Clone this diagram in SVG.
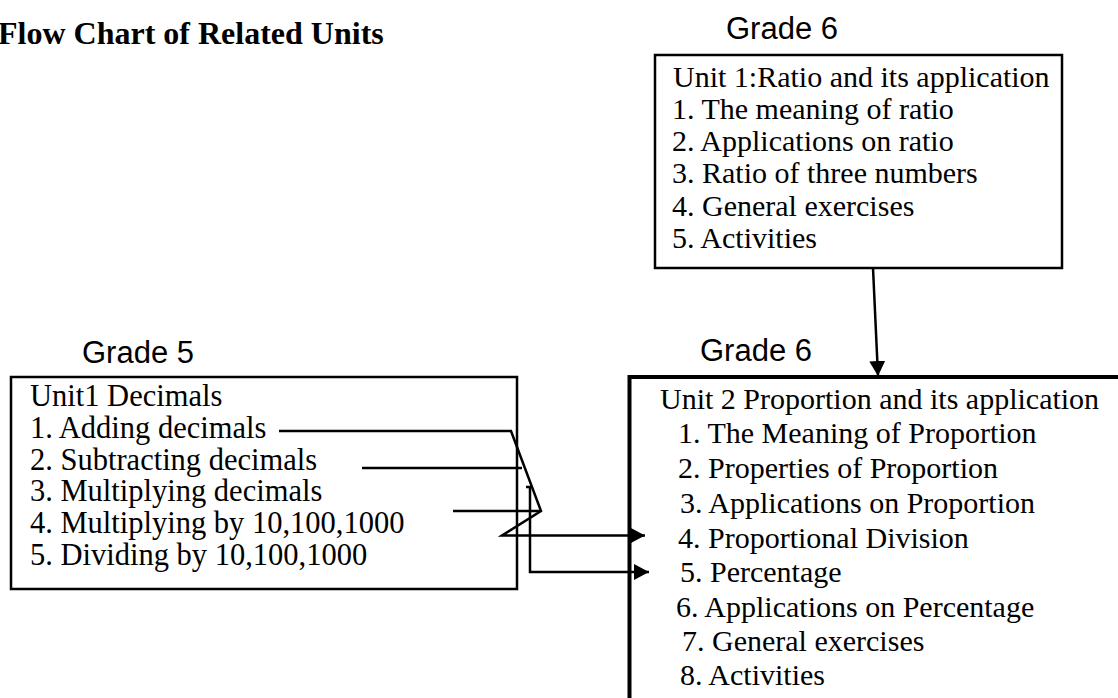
<svg xmlns="http://www.w3.org/2000/svg" width="1118" height="698" viewBox="0 0 1118 698">
<style>
.t{font-family:"Liberation Serif","Times New Roman",serif;font-size:30px;fill:#000}
.tl{font-family:"Liberation Serif","Times New Roman",serif;font-size:30.5px;fill:#000}
.g{font-family:"Liberation Sans",Arial,sans-serif;font-size:31px;fill:#000}
.title{font-family:"Liberation Serif","Times New Roman",serif;font-size:32px;font-weight:bold;fill:#000}
.box{fill:none;stroke:#000}
.c{fill:none;stroke:#000;stroke-width:2.5}
</style>
<defs>
<marker id="ah" markerUnits="userSpaceOnUse" markerWidth="16" markerHeight="16" refX="15" refY="8" orient="auto">
<path d="M0,0 L15,8 L0,16 Z" fill="#000"/>
</marker>
</defs>
<rect width="1118" height="698" fill="#fff"/>
<text class="title" x="-2" y="44">Flow Chart of Related Units</text>

<g id="label-grade6-top"><text class="g" x="726" y="39">Grade 6</text></g>
<g id="label-grade5"><text class="g" x="82" y="363">Grade 5</text></g>
<g id="label-grade6-mid"><text class="g" x="700" y="361">Grade 6</text></g>

<g id="unit1-ratio">
<rect class="box" x="655" y="55" width="407" height="213" stroke-width="2.5"/>
<text class="t" x="673" y="87">Unit 1:Ratio and its application</text>
<text class="t" x="672" y="119">1. The meaning of ratio</text>
<text class="t" x="672" y="151">2. Applications on ratio</text>
<text class="t" x="672" y="183">3. Ratio of three numbers</text>
<text class="t" x="672" y="216">4. General exercises</text>
<text class="t" x="672" y="248">5. Activities</text>
</g>

<g id="unit1-decimals">
<rect class="box" x="11" y="377" width="506" height="212" stroke-width="2.5"/>
<text class="tl" x="30" y="406">Unit1 Decimals</text>
<text class="tl" x="30" y="438">1. Adding decimals</text>
<text class="tl" x="30" y="470">2. Subtracting decimals</text>
<text class="tl" x="30" y="501">3. Multiplying decimals</text>
<text class="tl" x="30" y="533">4. Multiplying by 10,100,1000</text>
<text class="tl" x="30" y="565">5. Dividing by 10,100,1000</text>
</g>

<g id="unit2-proportion">
<path class="box" d="M629.5,720 V377 H1130" stroke-width="4"/>
<text class="t" x="660" y="409">Unit 2 Proportion and its application</text>
<text class="t" x="678" y="443">1. The Meaning of Proportion</text>
<text class="t" x="678" y="478">2. Properties of Proportion</text>
<text class="t" x="680" y="513">3. Applications on Proportion</text>
<text class="t" x="678" y="548">4. Proportional Division</text>
<text class="t" x="680" y="582">5. Percentage</text>
<text class="t" x="676" y="617">6. Applications on Percentage</text>
<text class="t" x="682" y="651">7. General exercises</text>
<text class="t" x="680" y="685">8. Activities</text>
</g>

<g id="connectors">
<path class="c" d="M873,268 L878,376" marker-end="url(#ah)"/>
<path class="c" d="M279,431 H511 L541,511 L502,535.5 H645" marker-end="url(#ah)"/>
<path class="c" d="M362,468 H522"/>
<path class="c" d="M453,511 H541"/>
<path class="c" d="M526,487 H530 V572 H649" marker-end="url(#ah)"/>
</g>
</svg>
